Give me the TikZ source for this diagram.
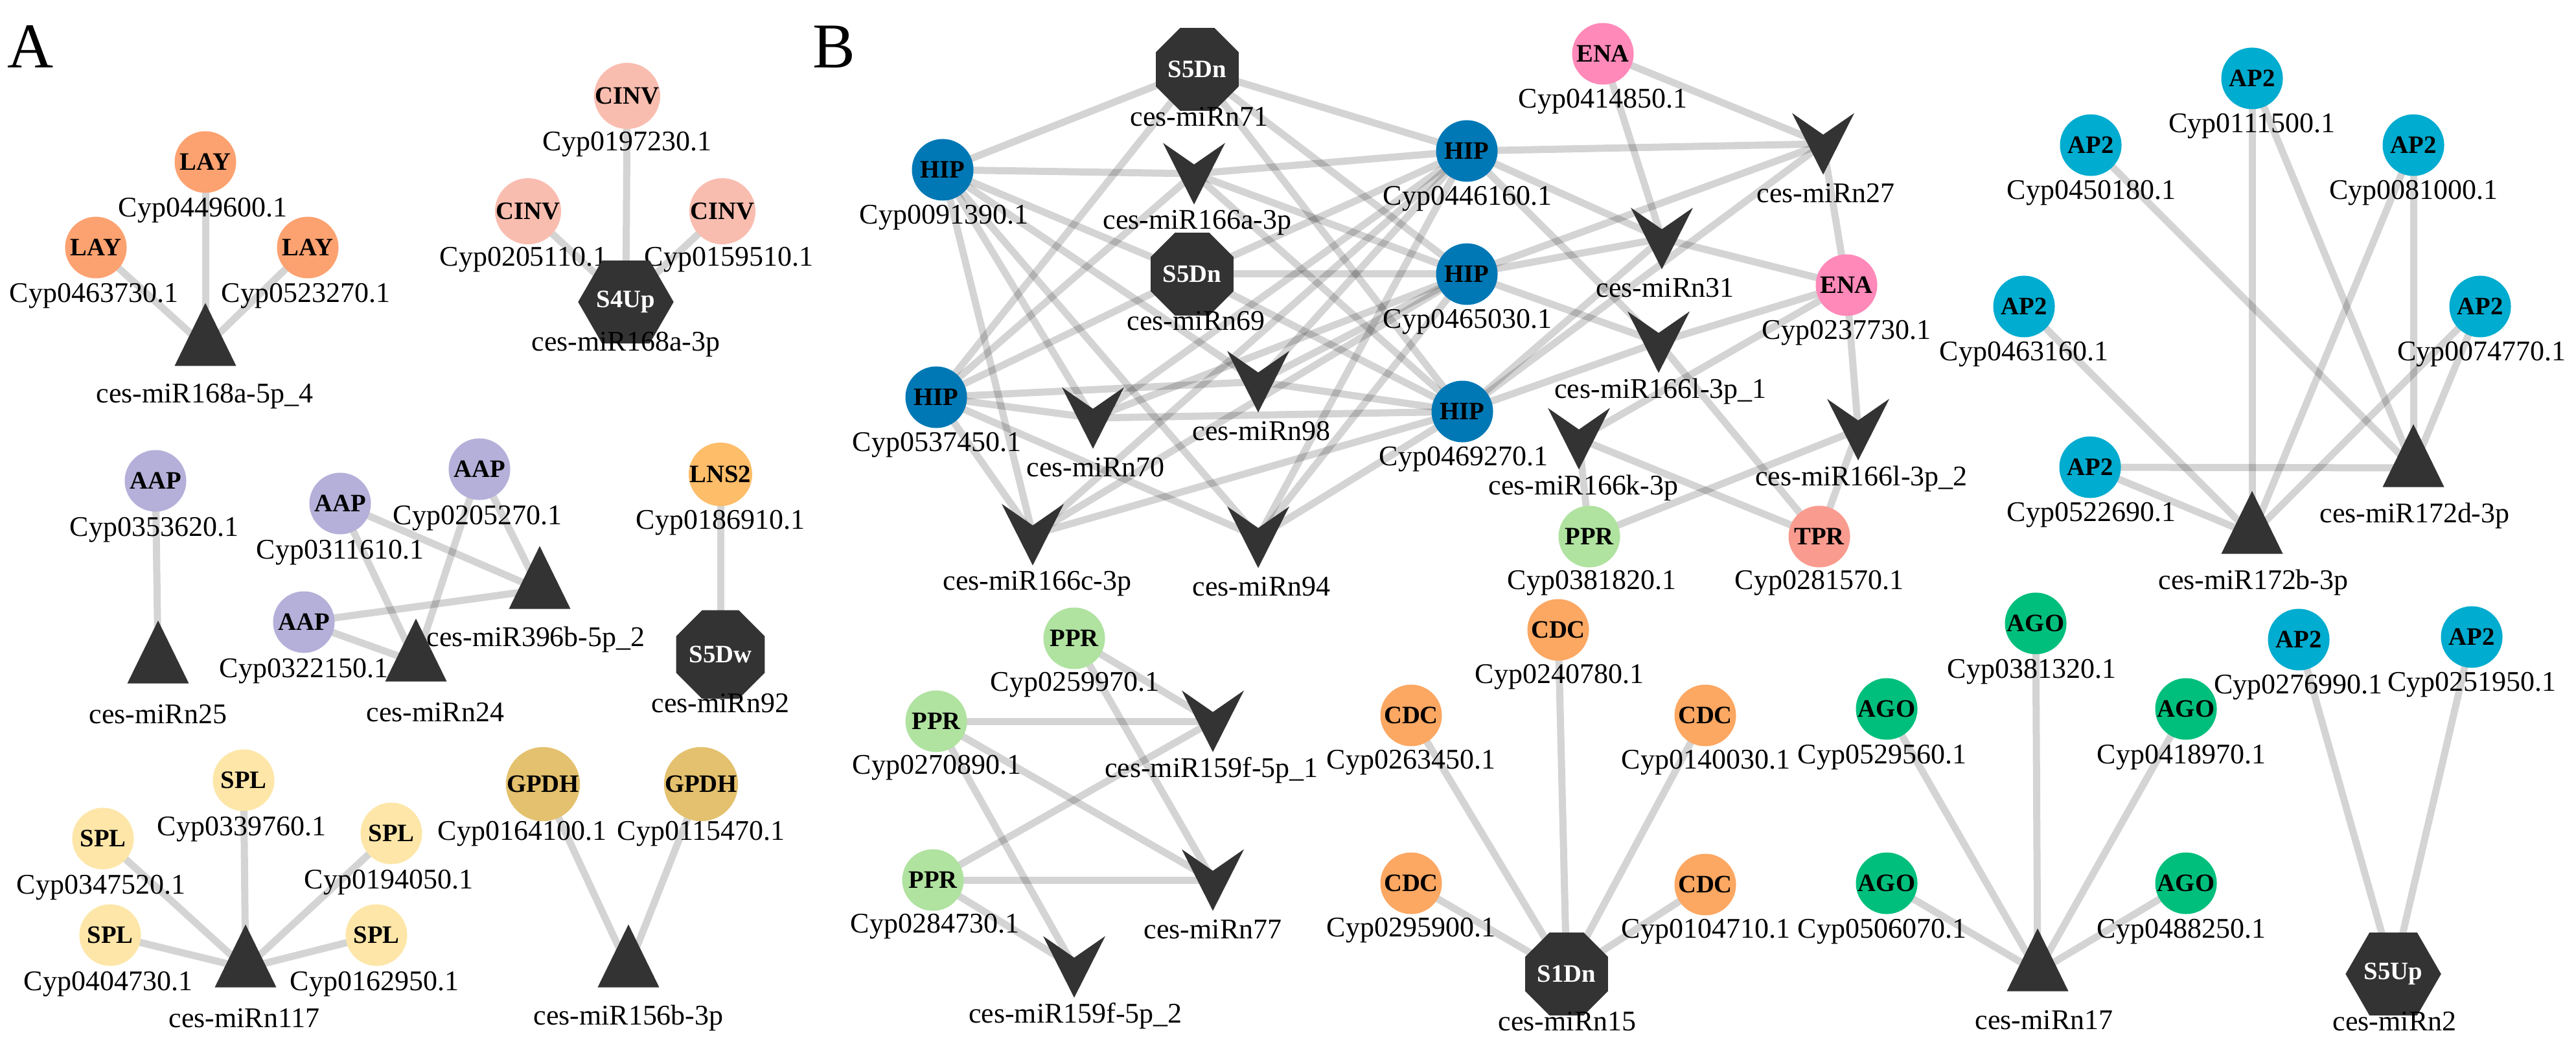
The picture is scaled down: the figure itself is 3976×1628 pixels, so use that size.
\documentclass[tikz,border=0pt]{standalone}
\usepackage{fontspec}
\setmainfont{Liberation Serif}
\usetikzlibrary{shapes.geometric,backgrounds,calc}

\definecolor{dk}{RGB}{51,51,51}
\definecolor{layc}{RGB}{252,161,112}
\definecolor{cinvc}{RGB}{249,189,176}
\definecolor{aapc}{RGB}{180,176,217}
\definecolor{lnsc}{RGB}{253,189,105}
\definecolor{splc}{RGB}{253,230,168}
\definecolor{gpdhc}{RGB}{228,193,110}
\definecolor{hipc}{RGB}{0,120,181}
\definecolor{enac}{RGB}{255,137,185}
\definecolor{pprc}{RGB}{176,226,160}
\definecolor{tprc}{RGB}{250,155,143}
\definecolor{cdcc}{RGB}{252,167,98}
\definecolor{agoc}{RGB}{0,191,124}
\definecolor{apc}{RGB}{0,172,207}

\newcommand{\tagfont}{\fontsize{11}{12}\selectfont\bfseries}
\newcommand{\lblfont}{\fontsize{12.5}{14}\selectfont}

\tikzset{
	gene/.style={circle,minimum size=0.95cm,inner sep=0pt,font=\tagfont,fill=#1},
	lbl/.style={inner sep=0pt,font=\lblfont},
	mir/.style={fill=dk,inner sep=0pt,text=white,font=\tagfont},
	tri/.style={mir,isosceles triangle,shape border rotate=90,isosceles triangle stretches,minimum width=0.95cm,minimum height=0.97cm},
	octa/.style={mir,regular polygon,regular polygon sides=8,minimum size=1.05cm},
	hexa/.style={mir,regular polygon,regular polygon sides=6,minimum size=0.95cm},
	vee/.style={rectangle,inner sep=0pt,minimum width=0.96cm,minimum height=0.95cm,
		path picture={\fill[dk] (path picture bounding box.north west)
			-- ($(path picture bounding box.north)!0.35!(path picture bounding box.south)$)
			-- (path picture bounding box.north east) -- (path picture bounding box.south) -- cycle;}},
	edge/.style={line width=0.11cm,black,opacity=0.17}
}

\begin{document}
\begin{tikzpicture}[x=0.01cm,y=-0.01cm]
	\useasboundingbox (0,0) rectangle (3976,1628);
	\node[lbl,font=\fontsize{28}{30}\selectfont] (pa) at (47,72) {A};
	\node[lbl,font=\fontsize{28}{30}\selectfont] (pb) at (1287,72) {B};

	% panel A
	\foreach \n/\x/\y/\lx/\t in {lay1/317/250/313/Cyp0449600.1,lay2/148/382/145/Cyp0463730.1,lay3/475/382/472/Cyp0523270.1}
		{\node[gene=layc] (\n) at (\x,\y) {LAY};
		\node[lbl] (\n-l) at (\lx,\y+75) {\t};}
	\foreach \n/\x/\y/\lx/\t in {cinv1/968/148/968/Cyp0197230.1,cinv2/815/326/808/Cyp0205110.1,cinv3/1115/326/1125/Cyp0159510.1}
		{\node[gene=cinvc] (\n) at (\x,\y) {CINV};
		\node[lbl] (\n-l) at (\lx,\y+75) {\t};}
	\foreach \n/\x/\y/\lx/\t in {aap1/240/742/238/Cyp0353620.1,aap2/525/777/525/Cyp0311610.1,aap3/740/724/737/Cyp0205270.1,aap4/469/960/469/Cyp0322150.1}
		{\node[gene=aapc] (\n) at (\x,\y) {AAP};
		\node[lbl] (\n-l) at (\lx,\y+76) {\t};}
	\node[gene=lnsc] (lns) at (1112,732) {LNS2};
	\node[lbl] (lns-l) at (1112,807) {Cyp0186910.1};
	\foreach \n/\x/\y/\lx/\t in {spl1/376/1204/373/Cyp0339760.1,spl2/159/1294/156/Cyp0347520.1,spl3/604/1286/600/Cyp0194050.1,spl4/170/1443/167/Cyp0404730.1,spl5/581/1443/578/Cyp0162950.1}
		{\node[gene=splc] (\n) at (\x,\y) {SPL};
		\node[lbl] (\n-l) at (\lx,\y+76) {\t};}
	\foreach \n/\x/\y/\lx/\t in {gp1/838/1210/806/Cyp0164100.1,gp2/1082/1210/1082/Cyp0115470.1}
		{\node[gene=gpdhc] (\n) at (\x,\y) {GPDH};
		\node[lbl] (\n-l) at (\lx,\y+77) {\t};}

	\foreach \n/\x/\y/\lx/\t in {t168a/317/535/316/ces-miR168a-5p\_4,t25/244/1025/244/ces-miRn25,t396/833/910/827/ces-miR396b-5p\_2,t24/642/1022/672/ces-miRn24,t117/379/1494/377/ces-miRn117,t156/970/1494/970/ces-miR156b-3p}
		{\node[tri] (\n) at (\x,\y) {};
		\node[lbl] (\n-l) at (\lx,\y+77) {\t};}
	\node[hexa,minimum size=0.85cm] (h168a) at (966,466) {S4Up};
	\node[lbl] (h168a-l) at (966,532) {ces-miR168a-3p};
	\node[octa] (o92) at (1112,1010) {S5Dw};
	\node[lbl] (o92-l) at (1112,1085) {ces-miRn92};

	% panel B
	\foreach \n/\x/\y/\lx/\t in {hip1/1455/262/1457/Cyp0091390.1,hip2/2264/233/2265/Cyp0446160.1,hip3/2264/423/2265/Cyp0465030.1,hip4/1445/613/1446/Cyp0537450.1,hip5/2257/635/2259/Cyp0469270.1}
		{\node[gene=hipc] (\n) at (\x,\y) {HIP};
		\node[lbl] (\n-l) at (\lx,\y+74) {\t};}
	\foreach \n/\x/\y/\lx/\t in {ena1/2474/83/2474/Cyp0414850.1,ena2/2850/440/2850/Cyp0237730.1}
		{\node[gene=enac] (\n) at (\x,\y) {ENA};
		\node[lbl] (\n-l) at (\lx,\y+74) {\t};}
	\foreach \n/\x/\y/\lx/\t in {ppr1/2453/828/2457/Cyp0381820.1,ppr2/1658/985/1659/Cyp0259970.1,ppr3/1445/1113/1446/Cyp0270890.1,ppr4/1440/1358/1443/Cyp0284730.1}
		{\node[gene=pprc] (\n) at (\x,\y) {PPR};
		\node[lbl] (\n-l) at (\lx,\y+72) {\t};}
	\node[gene=tprc] (tpr) at (2808,828) {TPR};
	\node[lbl] (tpr-l) at (2808,900) {Cyp0281570.1};
	\foreach \n/\x/\y/\lx/\t in {cdc1/2405/972/2407/Cyp0240780.1,cdc2/2178/1104/2178/Cyp0263450.1,cdc3/2632/1104/2633/Cyp0140030.1,cdc4/2178/1363/2178/Cyp0295900.1,cdc5/2632/1365/2633/Cyp0104710.1}
		{\node[gene=cdcc] (\n) at (\x,\y) {CDC};
		\node[lbl] (\n-l) at (\lx,\y+73) {\t};}
	\foreach \n/\x/\y/\lx/\t in {ago1/3142/962/3136/Cyp0381320.1,ago2/2912/1094/2905/Cyp0529560.1,ago3/3374/1094/3367/Cyp0418970.1,ago4/2912/1363/2905/Cyp0506070.1,ago5/3374/1363/3367/Cyp0488250.1}
		{\node[gene=agoc] (\n) at (\x,\y) {AGO};
		\node[lbl] (\n-l) at (\lx,\y+75) {\t};}
	\foreach \n/\x/\y/\lx/\t in {ap1/3476/121/3476/Cyp0111500.1,ap2/3227/224/3228/Cyp0450180.1,ap3/3725/224/3725/Cyp0081000.1,ap4/3124/473/3124/Cyp0463160.1,ap5/3828/473/3830/Cyp0074770.1,ap6/3226/721/3228/Cyp0522690.1,ap7/3548/987/3547/Cyp0276990.1,ap8/3815/983/3815/Cyp0251950.1}
		{\node[gene=apc] (\n) at (\x,\y) {AP2};
		\node[lbl] (\n-l) at (\lx,\y+74) {\t};}

	\foreach \n/\x/\y/\lx/\t in {v166a/1843/268/1848/ces-miR166a-3p,v70/1687/645/1691/ces-miRn70,v98/1942/589/1947/ces-miRn98,v166c/1594/825/1601/ces-miR166c-3p,v94/1942/829/1947/ces-miRn94,v27/2814/222/2818/ces-miRn27,v31/2565/368/2570/ces-miRn31,v166l1/2560/528/2563/ces-miR166l-3p\_1,v166k/2437/677/2444/ces-miR166k-3p,v166l2/2868/663/2873/ces-miR166l-3p\_2,v159a/1872/1113/1870/ces-miR159f-5p\_1,v77/1872/1358/1872/ces-miRn77,v159b/1658/1492/1660/ces-miR159f-5p\_2}
		{\node[vee] (\n) at (\x,\y) {};
		\node[lbl] (\n-l) at (\lx,\y+76) {\t};}
	\node[octa] (o71) at (1848,107) {S5Dn};
	\node[lbl] (o71-l) at (1851,180) {ces-miRn71};
	\node[octa] (o69) at (1840,423) {S5Dn};
	\node[lbl] (o69-l) at (1846,495) {ces-miRn69};
	\node[octa] (o15) at (2418,1503) {S1Dn};
	\node[lbl] (o15-l) at (2419,1576) {ces-miRn15};
	\foreach \n/\x/\y/\lx/\t in {t172d/3725/722/3727/ces-miR172d-3p,t172b/3476/825/3478/ces-miR172b-3p,t17/3145/1500/3155/ces-miRn17}
		{\node[tri] (\n) at (\x,\y) {};
		\node[lbl] (\n-l) at (\lx,\y+74) {\t};}
	\node[hexa] (h2) at (3694,1503) {S5Up};
	\node[lbl] (h2-l) at (3696,1576) {ces-miRn2};

	\begin{scope}[on background layer]
		\foreach \a/\b in {lay1/t168a,lay2/t168a,lay3/t168a,cinv1/h168a,cinv2/h168a,cinv3/h168a,aap1/t25,
			aap2/t396,aap3/t396,aap4/t396,aap2/t24,aap3/t24,aap4/t24,lns/o92,
			spl1/t117,spl2/t117,spl3/t117,spl4/t117,spl5/t117,gp1/t156,gp2/t156}
			\draw[edge] (\a.center) -- (\b.center);
		\foreach \i in {1,...,5}
			\foreach \m in {o71,v166a,o69,v70,v98,v166c,v94}
				\draw[edge] (hip\i.center) -- (\m.center);
		\foreach \i in {2,3,5}
			\foreach \m in {v27,v31,v166l1}
				\draw[edge] (hip\i.center) -- (\m.center);
		\foreach \a/\b in {ena1/v27,ena1/v31,ena2/v27,ena2/v31,ena2/v166l1,ena2/v166k,ena2/v166l2,
			tpr/v166l1,tpr/v166k,tpr/v166l2,ppr1/v166k,ppr1/v166l2,
			ppr2/v159a,ppr2/v77,ppr3/v159a,ppr3/v77,ppr3/v159b,ppr4/v159a,ppr4/v77,ppr4/v159b,
			cdc1/o15,cdc2/o15,cdc3/o15,cdc4/o15,cdc5/o15,
			ago1/t17,ago2/t17,ago3/t17,ago4/t17,ago5/t17,
			ap1/t172b,ap1/t172d,ap2/t172d,ap3/t172b,ap3/t172d,ap4/t172b,ap5/t172b,ap5/t172d,ap6/t172b,ap6/t172d,
			ap7/h2,ap8/h2}
			\draw[edge] (\a.center) -- (\b.center);
	\end{scope}
\end{tikzpicture}
\end{document}
